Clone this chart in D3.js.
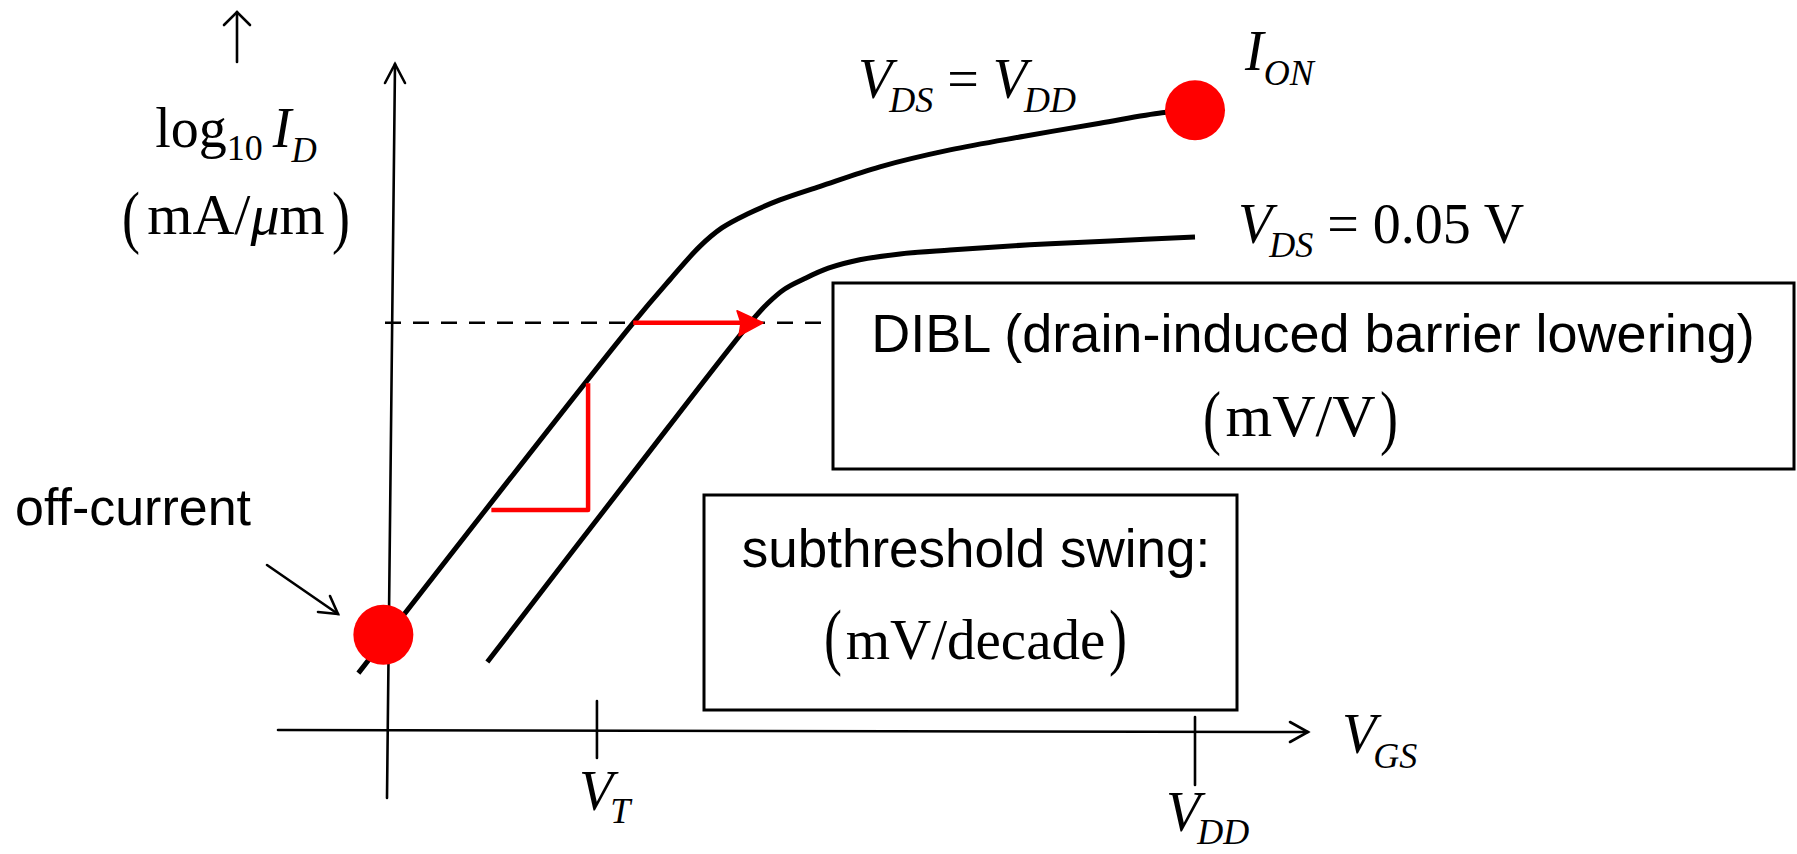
<!DOCTYPE html>
<html>
<head>
<meta charset="utf-8">
<script src="https://cdn.jsdelivr.net/npm/d3@7"></script>
<style>
  html, body { margin: 0; padding: 0; background: #fff; }
  svg { display: block; }
  text { white-space: pre; }
</style>
</head>
<body>
<svg id="chart" width="1797" height="854"></svg>
<script>
// Gate voltage normalised to V_DD; drain current in decades above the axis origin.
const VT = 0.258;
const VDD = 1.0;
const tickValues = [VT, VDD];
const tickSubs = ["T", "DD"];

// I_D–V_GS transfer curve at V_DS = V_DD
const highVdsX = [-0.038, 0.303, 0.349, 0.386, 0.413, 0.444, 0.485, 0.535, 0.609, 0.696, 0.788, 0.882, 0.959, 1.0];
const highVdsY = [0.89, 6.28, 6.95, 7.46, 7.74, 7.95, 8.17, 8.38, 8.68, 8.94, 9.15, 9.35, 9.51, 9.55];

// I_D–V_GS transfer curve at V_DS = 0.05 V
const lowVdsX = [0.122, 0.299, 0.448, 0.470, 0.491, 0.514, 0.545, 0.584, 0.634, 0.696, 0.795, 0.895, 1.0];
const lowVdsY = [1.06, 3.91, 6.28, 6.58, 6.80, 6.95, 7.12, 7.25, 7.34, 7.40, 7.48, 7.54, 7.60];

const offCurrent = [-0.007, 1.48];     // I_OFF marker
const onCurrent = [VDD, 9.55];         // I_ON marker
const diblLevel = 6.28;                // constant-current level for the DIBL shift
const diblShiftX = [0.303, 0.464];     // shift arrow from high-V_DS to low-V_DS curve
const swingRunX = [0.127, 0.247];      // one-decade run of the subthreshold slope
const swingRiseY = [3.40, 5.35];

const SERIF = "'Liberation Serif', 'Times New Roman', Times, serif";
const SANS = "'Liberation Sans', Arial, Helvetica, sans-serif";

const svg = d3.select("#chart");
svg.append("rect").attr("width", 1797).attr("height", 854).attr("fill", "#fff");

const x = d3.scaleLinear().domain([0, 1]).range([389, 1195]);
const y = d3.scaleLinear().domain([0, 10]).range([731, 81]);

const zip = (xs, ys) => xs.map((v, i) => [v, ys[i]]);
const line = d3.line().x(d => x(d[0])).y(d => y(d[1])).curve(d3.curveCatmullRom.alpha(0.5));

// ---- axes -------------------------------------------------------------
const axes = svg.append("g").attr("stroke", "#000").attr("stroke-width", 2.6)
  .attr("fill", "none").attr("stroke-linecap", "round");
const x0 = x(0), y0 = y(0);
// vertical axis with open arrowhead
axes.append("path").attr("d", `M${x0 - 2},798 L${x0 + 6},64`);
axes.append("path").attr("d", `M${x0 - 4},83 L${x0 + 6},64 L${x0 + 16},83`);
// horizontal axis with open arrowhead
axes.append("path").attr("d", `M278,${y0 - 1} L1308,${y0 + 1}`);
axes.append("path").attr("d", `M1290,${y0 - 9} L1308,${y0 + 1} L1290,${y0 + 11}`);
// axis ticks (V_T, V_DD)
const tickSpan = [[-30, 27], [-14, 54]];
tickValues.forEach((v, i) => {
  axes.append("line").attr("x1", x(v)).attr("x2", x(v))
    .attr("y1", y0 + tickSpan[i][0]).attr("y2", y0 + tickSpan[i][1]);
});
// small arrow above the y label
axes.append("path").attr("d", "M237,62 L237,12");
axes.append("path").attr("d", "M224,25 L237,12 L250,25");
// pointer to the off-current marker
axes.append("path").attr("d", "M267,565 L338,614");
axes.append("path").attr("d", "M318,612 L338,614 L330,596");

// ---- dashed constant-current reference ---------------------------------
svg.append("line")
  .attr("x1", 385).attr("x2", 832)
  .attr("y1", y(diblLevel)).attr("y2", y(diblLevel))
  .attr("stroke", "#000").attr("stroke-width", 2.6)
  .attr("stroke-dasharray", "16 12");

// ---- annotation boxes ---------------------------------------------------
const boxes = svg.append("g").attr("fill", "#fff").attr("stroke", "#000").attr("stroke-width", 3);
boxes.append("rect").attr("x", 833).attr("y", 283).attr("width", 961).attr("height", 186);
boxes.append("rect").attr("x", 704).attr("y", 495).attr("width", 533).attr("height", 215);

// ---- transfer curves ----------------------------------------------------
svg.append("path").datum(zip(highVdsX, highVdsY)).attr("d", line)
  .attr("fill", "none").attr("stroke", "#000").attr("stroke-width", 5);
svg.append("path").datum(zip(lowVdsX, lowVdsY)).attr("d", line)
  .attr("fill", "none").attr("stroke", "#000").attr("stroke-width", 5);

// ---- red construction marks --------------------------------------------
const red = "#ff0000";
svg.append("path")
  .attr("d", `M${x(swingRunX[0])},${y(swingRiseY[0])} L${x(swingRunX[1])},${y(swingRiseY[0])} L${x(swingRunX[1])},${y(swingRiseY[1])}`)
  .attr("fill", "none").attr("stroke", red).attr("stroke-width", 4.5).attr("stroke-linejoin", "round");
const dy = y(diblLevel);
const tipX = x(diblShiftX[1]);
svg.append("line").attr("x1", x(diblShiftX[0])).attr("x2", tipX - 8)
  .attr("y1", dy).attr("y2", dy).attr("stroke", red).attr("stroke-width", 4.5);
svg.append("path")
  .attr("d", `M${tipX},${dy} L${tipX - 26},${dy - 12} L${tipX - 22},${dy} L${tipX - 24},${dy + 13} Z`)
  .attr("fill", red).attr("stroke", red).attr("stroke-width", 1.5).attr("stroke-linejoin", "round");

// ---- markers ------------------------------------------------------------
svg.append("circle").attr("cx", x(offCurrent[0])).attr("cy", y(offCurrent[1])).attr("r", 30).attr("fill", red);
svg.append("circle").attr("cx", x(onCurrent[0])).attr("cy", y(onCurrent[1])).attr("r", 30).attr("fill", red);

// ---- text helpers ---------------------------------------------------------
function richText(parent, px, py, parts, family, anchor) {
  const t = parent.append("text").attr("x", px).attr("y", py)
    .attr("font-family", family).attr("text-anchor", anchor || "start").attr("fill", "#000");
  let shift = 0;
  parts.forEach(p => {
    const ts = t.append("tspan").text(p.t).attr("font-size", p.size);
    if (p.italic) ts.attr("font-style", "italic");
    const target = p.sub || 0;
    if (target !== shift) { ts.attr("dy", target - shift); shift = target; }
    if (p.dx) ts.attr("dx", p.dx);
  });
  return t;
}

// ink extents of a glyph, used to stretch brackets to an exact span
const measureCtx = document.createElement("canvas").getContext("2d");
function glyphInk(ch, size) {
  measureCtx.font = `${size}px 'Liberation Serif'`;
  const m = measureCtx.measureText(ch);
  return { ascent: m.actualBoundingBoxAscent, descent: m.actualBoundingBoxDescent };
}

function bracket(parent, ch, px, top, bottom, anchor) {
  const size = 54;
  const ink = glyphInk(ch, size);
  const s = (bottom - top) / (ink.ascent + ink.descent);
  parent.append("text").text(ch)
    .attr("font-family", SERIF).attr("font-size", size)
    .attr("text-anchor", anchor).attr("fill", "#000")
    .attr("transform", `translate(${px},${top + ink.ascent * s}) scale(1,${s})`);
}

function bracketed(parent, left, right, top, bottom, baseline, parts) {
  richText(parent, (left + right) / 2, baseline, parts, SERIF, "middle");
  bracket(parent, "(", left, top, bottom, "start");
  bracket(parent, ")", right, top, bottom, "end");
}

const labels = svg.append("g");

// y-axis label
richText(labels, 236, 147, [
  { t: "log", size: 56 },
  { t: "10", size: 36, sub: 13 },
  { t: " ", size: 40, sub: 0 },
  { t: "I", size: 56, italic: true },
  { t: "D", size: 35, italic: true, sub: 15 }
], SERIF, "middle");
bracketed(labels, 122, 350, 190, 255, 234, [
  { t: "mA/", size: 58 }, { t: "μ", size: 58, italic: true }, { t: "m", size: 58 }
]);

// curve labels
richText(labels, 858, 98, [
  { t: "V", size: 56, italic: true },
  { t: "DS", size: 36, italic: true, sub: 14, dx: -3 },
  { t: " = ", size: 56, sub: 0 },
  { t: "V", size: 56, italic: true },
  { t: "DD", size: 36, italic: true, sub: 14, dx: -3 }
], SERIF);
richText(labels, 1245, 70, [
  { t: "I", size: 56, italic: true },
  { t: "ON", size: 36, italic: true, sub: 15 }
], SERIF);
richText(labels, 1238, 243, [
  { t: "V", size: 56, italic: true },
  { t: "DS", size: 36, italic: true, sub: 14, dx: -3 },
  { t: " = 0.05 V", size: 56, sub: 0 }
], SERIF);

// axis labels
richText(labels, 1342, 753, [
  { t: "V", size: 56, italic: true },
  { t: "GS", size: 36, italic: true, sub: 15, dx: -3 }
], SERIF);
const tickLabelPos = [[579, 810], [1166, 831]];
tickValues.forEach((v, i) => {
  richText(labels, tickLabelPos[i][0], tickLabelPos[i][1], [
    { t: "V", size: 56, italic: true },
    { t: tickSubs[i], size: 36, italic: true, sub: 13, dx: -3 }
  ], SERIF);
});

// annotations
labels.append("text").text("off-current").attr("x", 15).attr("y", 525)
  .attr("font-family", SANS).attr("font-size", 52).attr("fill", "#000");
labels.append("text").text("DIBL (drain-induced barrier lowering)")
  .attr("x", 1313).attr("y", 352).attr("text-anchor", "middle")
  .attr("font-family", SANS).attr("font-size", 54).attr("fill", "#000");
bracketed(labels, 1203, 1398, 389, 457, 436, [{ t: "mV/V", size: 60 }]);
labels.append("text").text("subthreshold swing:")
  .attr("x", 976).attr("y", 567).attr("text-anchor", "middle")
  .attr("font-family", SANS).attr("font-size", 53).attr("fill", "#000");
bracketed(labels, 824, 1127, 607, 677, 659, [{ t: "mV/decade", size: 57 }]);
</script>
</body>
</html>
